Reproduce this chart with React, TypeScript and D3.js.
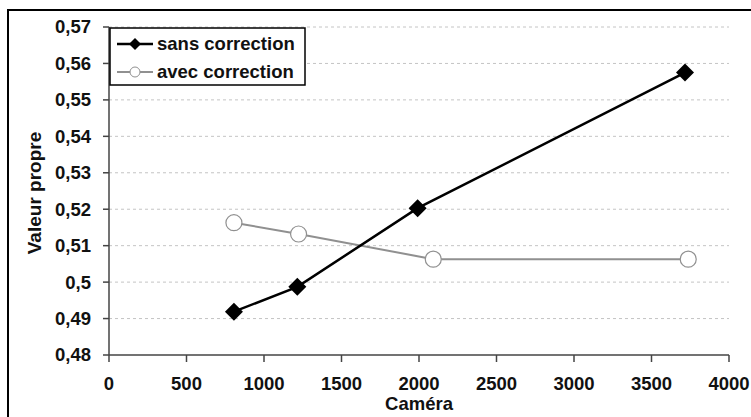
import React from "react";
import * as d3 from "d3";

const sansX = [806, 1215, 1991, 3716];
const sansY = [0.4919, 0.4987, 0.5203, 0.5575];
const avecX = [806, 1223, 2092, 3737];
const avecY = [0.5163, 0.5132, 0.5063, 0.5063];
const xTicks = [0, 500, 1000, 1500, 2000, 2500, 3000, 3500, 4000];
const yTicks = [0.48, 0.49, 0.5, 0.51, 0.52, 0.53, 0.54, 0.55, 0.56, 0.57];
const seriesNames = ["sans correction", "avec correction"];
const xTitle = "Caméra";
const yTitle = "Valeur propre";

const W = 751;
const H = 417;
const FONT = "'Liberation Sans', Arial, sans-serif";
const FS = 18.5;

export default function App() {
  const x = d3.scaleLinear().domain([0, 4000]).range([109, 729]);
  const y = d3.scaleLinear().domain([0.48, 0.57]).range([355, 27]);
  const line = d3
    .line<[number, number]>()
    .x((d) => x(d[0]))
    .y((d) => y(d[1]));
  const sans: [number, number][] = sansX.map((v, i) => [v, sansY[i]]);
  const avec: [number, number][] = avecX.map((v, i) => [v, avecY[i]]);
  const fmt = (v: number) => String(+v.toFixed(2)).replace(".", ",");
  const diamond = (cx: number, cy: number, r: number) =>
    `M${cx},${cy - r}L${cx + r},${cy}L${cx},${cy + r}L${cx - r},${cy}Z`;

  return (
    <svg
      width={W}
      height={H}
      style={{ position: "absolute", left: 0, top: 0 }}
      fontFamily={FONT}
      fontWeight="bold"
    >
      <rect x={0} y={0} width={W} height={H} fill="#fff" />
      <rect x={8} y={10} width={W + 10} height={H + 10} fill="none" stroke="#000" strokeWidth={2} />
      {yTicks.map((t) => (
        <g key={"y" + t}>
          {t > 0.48 && (
            <line
              x1={x(0)}
              x2={x(4000)}
              y1={y(t)}
              y2={y(t)}
              stroke="#c4c4c4"
              strokeWidth={1}
              strokeDasharray="3,3"
            />
          )}
          <line x1={x(0) - 6} x2={x(0)} y1={y(t)} y2={y(t)} stroke="#444" strokeWidth={1.5} />
          <text x={91} y={y(t)} dy="0.35em" textAnchor="end" fontSize={FS} fill="#111">
            {fmt(t)}
          </text>
        </g>
      ))}
      {xTicks.map((t) => (
        <g key={"x" + t}>
          <line x1={x(t)} x2={x(t)} y1={y(0.48)} y2={y(0.48) + 7} stroke="#444" strokeWidth={1.5} />
          <text x={x(t)} y={390} textAnchor="middle" fontSize={FS} fill="#111">
            {t}
          </text>
        </g>
      ))}
      <line x1={x(0)} x2={x(0)} y1={y(0.57)} y2={y(0.48)} stroke="#444" strokeWidth={1.5} />
      <line x1={x(0)} x2={x(4000)} y1={y(0.48)} y2={y(0.48)} stroke="#444" strokeWidth={1.5} />
      <text x={419} y={410} textAnchor="middle" fontSize={FS} fill="#111">
        {xTitle}
      </text>
      <text
        transform={`translate(41,193) rotate(-90)`}
        textAnchor="middle"
        fontSize={19}
        fill="#111"
      >
        {yTitle}
      </text>

      <path d={line(avec) || ""} fill="none" stroke="#909090" strokeWidth={2} />
      <path d={line(sans) || ""} fill="none" stroke="#000" strokeWidth={2.5} />
      {avec.map((d, i) => (
        <circle key={"a" + i} cx={x(d[0])} cy={y(d[1])} r={8} fill="#fff" stroke="#909090" strokeWidth={1.2} />
      ))}
      {sans.map((d, i) => (
        <path key={"s" + i} d={diamond(x(d[0]), y(d[1]), 9)} fill="#000" />
      ))}

      <rect x={110} y={28} width={195} height={57} fill="#fff" stroke="#000" strokeWidth={1.5} />
      <line x1={117} x2={153} y1={44} y2={44} stroke="#000" strokeWidth={2.5} />
      <path d={diamond(135, 44, 6)} fill="#000" />
      <text x={157} y={44} dy="0.35em" fontSize={FS} fill="#111">
        {seriesNames[0]}
      </text>
      <line x1={117} x2={153} y1={72} y2={72} stroke="#909090" strokeWidth={2} />
      <circle cx={135} cy={72} r={5} fill="#fff" stroke="#909090" strokeWidth={1} />
      <text x={157} y={72} dy="0.35em" fontSize={FS} fill="#111">
        {seriesNames[1]}
      </text>
    </svg>
  );
}
